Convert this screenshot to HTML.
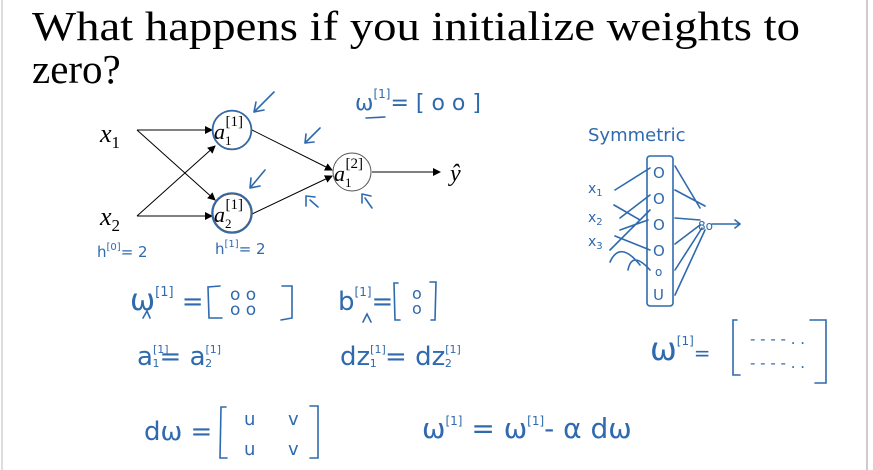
<!DOCTYPE html>
<html><head><meta charset="utf-8"><style>
html,body{margin:0;padding:0;background:#fff}
svg{display:block}
.h{fill:#2f6aae;font-family:"DejaVu Sans","Liberation Sans",sans-serif;}
.hs{stroke:#2f6aae;stroke-width:1.6;fill:none;stroke-linecap:round}
</style></head><body>
<svg width="873" height="470" viewBox="0 0 873 470" xmlns="http://www.w3.org/2000/svg">
<defs><marker id="ar" markerWidth="8" markerHeight="8" refX="7" refY="4" orient="auto" markerUnits="userSpaceOnUse"><path d="M0,0 L8,4 L0,8 z" fill="#000"/></marker></defs>
<rect width="873" height="470" fill="#fff"/>
<line x1="2" y1="0" x2="2" y2="470" stroke="#bbb"/>
<line x1="867" y1="0" x2="867" y2="470" stroke="#999"/>
<text x="32" y="40" font-family="Liberation Serif,serif" font-size="41" textLength="768" lengthAdjust="spacingAndGlyphs">What happens if you initialize weights to</text>
<text x="32" y="83" font-family="Liberation Serif,serif" font-size="41">zero?</text>
<g font-family="Liberation Serif,serif" font-style="italic">
<text x="100" y="142" font-size="26">x<tspan font-size="17" dy="6" font-style="normal">1</tspan></text>
<text x="100" y="225" font-size="26">x<tspan font-size="17" dy="6" font-style="normal">2</tspan></text>
</g>
<g stroke="#000" stroke-width="1" fill="none">
<line x1="137" y1="130" x2="212" y2="130" marker-end="url(#ar)"/>
<line x1="137" y1="130" x2="215" y2="200" marker-end="url(#ar)"/>
<line x1="137" y1="216" x2="215" y2="146" marker-end="url(#ar)"/>
<line x1="137" y1="216" x2="212" y2="216" marker-end="url(#ar)"/>
<line x1="252" y1="130" x2="332" y2="170" marker-end="url(#ar)"/>
<line x1="252" y1="214" x2="332" y2="176" marker-end="url(#ar)"/>
<line x1="372" y1="172" x2="440" y2="172" marker-end="url(#ar)"/>
<circle cx="232" cy="130" r="19" stroke="#555"/>
<circle cx="232" cy="213" r="19" stroke="#555"/>
<circle cx="352" cy="172" r="19" stroke="#555"/>
</g>
<circle cx="232" cy="130" r="19.5" class="hs" stroke-width="1.2"/>
<circle cx="232" cy="213" r="20" class="hs" stroke-width="1.4"/>
<g font-family="Liberation Serif,serif" font-size="22">
<text x="214" y="139" font-style="italic">a<tspan font-size="13" dy="6" font-style="normal">1</tspan><tspan font-size="15" dy="-19" dx="-6" font-style="normal">[1]</tspan></text>
<text x="214" y="222" font-style="italic">a<tspan font-size="13" dy="6" font-style="normal">2</tspan><tspan font-size="15" dy="-19" dx="-6" font-style="normal">[1]</tspan></text>
<text x="334" y="181" font-style="italic">a<tspan font-size="13" dy="6" font-style="normal">1</tspan><tspan font-size="15" dy="-19" dx="-6" font-style="normal">[2]</tspan></text>
<text x="450" y="181" font-size="24" font-style="italic">ŷ</text>
</g>
<g class="hs">
<path d="M274 92 L254 112 M254 112 L256 102 M254 112 L264 110"/>
<path d="M320 128 L305 143 M305 143 L306 134 M305 143 L314 142"/>
<path d="M265 170 L250 188 M250 188 L251 178 M250 188 L260 186"/>
<path d="M310 200 L318 207 M306 196 L306 206 M306 196 L315 197"/>
<path d="M365 198 L372 208 M362 194 L362 203 M362 194 L371 196"/>
</g>
<g class="h" font-size="18">
<text x="355" y="110" font-size="22">ω<tspan font-size="12" dy="-12">[1]</tspan><tspan dy="12">= [ o  o ]</tspan></text>
<text x="97" y="257" font-size="15">h<tspan font-size="10" dy="-7">[0]</tspan><tspan dy="7">= 2</tspan></text>
<text x="215" y="254" font-size="15">h<tspan font-size="10" dy="-7">[1]</tspan><tspan dy="7">= 2</tspan></text>
<line x1="366" y1="118" x2="385" y2="117" class="hs"/>
<text x="130" y="310" font-size="30">ω<tspan font-size="13" dy="-14">[1]</tspan><tspan dy="14" font-size="26"> = </tspan></text>
<text x="230" y="300" font-size="17">o  o</text><text x="230" y="315" font-size="17">o  o</text>
<text x="338" y="310" font-size="26">b<tspan font-size="12" dy="-14">[1]</tspan><tspan dy="14">=</tspan></text>
<text x="412" y="299" font-size="16">o</text><text x="412" y="314" font-size="16">o</text>
<text x="137" y="365" font-size="26">a<tspan font-size="11" dy="-12">[1]</tspan><tspan font-size="11" dy="14" dx="-16">1</tspan><tspan dy="-2">= a</tspan><tspan font-size="11" dy="-12">[1]</tspan><tspan font-size="11" dy="14" dx="-16">2</tspan></text>
<text x="340" y="365" font-size="26">dz<tspan font-size="11" dy="-12">[1]</tspan><tspan font-size="11" dy="14" dx="-16">1</tspan><tspan dy="-2">  = dz</tspan><tspan font-size="11" dy="-12">[1]</tspan><tspan font-size="11" dy="14" dx="-16">2</tspan></text>
<text x="144" y="440" font-size="26">dω = </text>
<text x="244" y="425" font-size="18">u</text><text x="288" y="425" font-size="18">v</text>
<text x="244" y="455" font-size="18">u</text><text x="288" y="455" font-size="18">v</text>
<text x="422" y="438" font-size="28">ω<tspan font-size="12" dy="-13">[1]</tspan><tspan dy="13"> = ω</tspan><tspan font-size="12" dy="-13">[1]</tspan><tspan dy="13">- α dω</tspan></text>
<text x="588" y="141" font-size="18">Symmetric</text>
<text x="588" y="193" font-size="14">x<tspan font-size="10" dy="3">1</tspan></text>
<text x="588" y="222" font-size="14">x<tspan font-size="10" dy="3">2</tspan></text>
<text x="588" y="246" font-size="14">x<tspan font-size="10" dy="3">3</tspan></text>
<text x="653" y="178" font-size="15">O</text><text x="653" y="204" font-size="15">O</text><text x="653" y="230" font-size="15">O</text><text x="653" y="256" font-size="15">O</text><text x="655" y="276" font-size="12">o</text><text x="653" y="300" font-size="15">U</text>
<text x="650" y="360" font-size="32">ω<tspan font-size="12" dy="-15">[1]</tspan><tspan dy="15" font-size="20">=</tspan></text>
<text x="750" y="344" font-size="15">- - - - .  .</text>
<text x="750" y="368" font-size="15">- - - - . .</text>
</g>
<g class="hs">
<path d="M220 286 L208 287 L209 318 L222 318"/><path d="M282 286 L292 286 L292 318 L281 320"/>
<path d="M398 283 L394 283 L395 320 L400 320"/><path d="M430 282 L436 282 L435 320 L431 320"/>
<path d="M226 407 L221 407 L220 458 L227 458"/><path d="M310 406 L318 406 L318 458 L310 458"/>
<rect x="647" y="156" width="26" height="150" rx="3"/>
<path d="M737 320 L733 320 L733 375 L740 375"/><path d="M810 320 L826 320 L826 383 L815 383"/>
<path d="M615 190 L650 168 M614 205 L640 220 M620 218 L650 195 M615 236 L650 250 M620 230 L648 220 M610 262 Q620 240 640 265 M628 270 Q632 250 650 270 M610 250 L650 210"/>
<path d="M675 166 L700 208 M675 190 L705 206 M675 218 L700 220 M675 244 L700 225 M675 270 L702 228 M675 295 L705 230 M712 224 L740 224 M735 220 L740 224 L735 228"/>
<text x="698" y="230" class="h" font-size="12" stroke="none">8o</text>
<path d="M143 318 L147 311 L150 318 M363 322 L367 314 L371 322"/>
</g>
</svg>
</body></html>
